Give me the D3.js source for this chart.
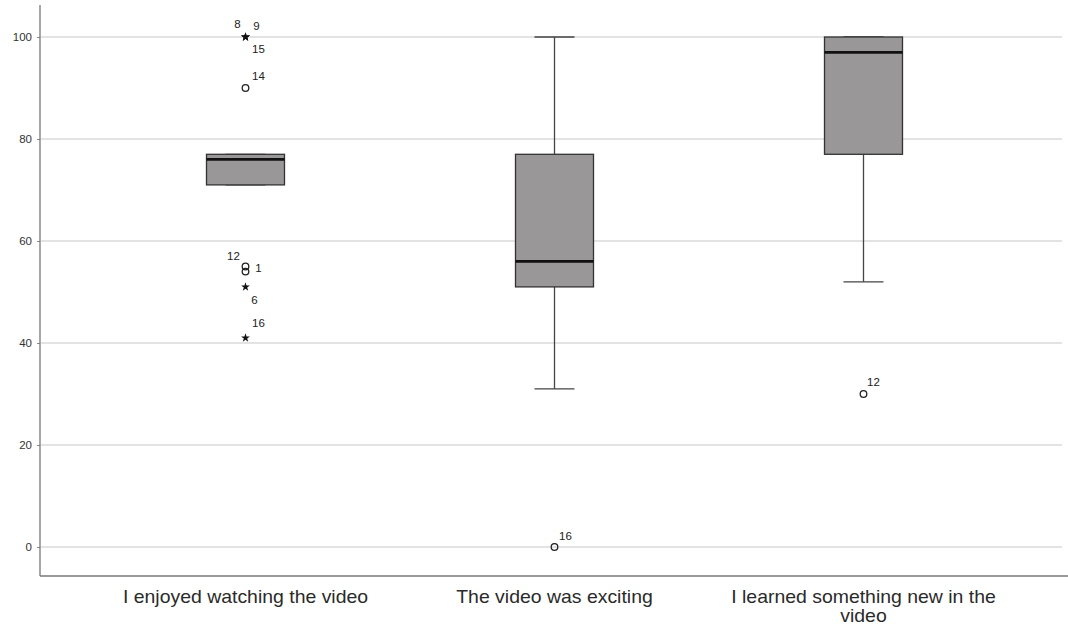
<!DOCTYPE html>
<html lang="en">
<head>
<script type="text/javascript" src="https://d3js.org/d3.v7.min.js"></script>
<style>
    body { margin: 0; background: #fff; }
    svg { display: block; font-family: "Liberation Sans", Arial, sans-serif; }
</style>
</head>
<body>
<div id="container"></div>
<script>
    // categories and box statistics
    const categories = ["I enjoyed watching the video", "The video was exciting", "I learned something new in the video"];
    const whiskerLow = [71, 31, 52],
        q1 = [71, 51, 77],
        median = [76, 56, 97],
        q3 = [77, 77, 100],
        whiskerHigh = [77, 100, 100];

    // outliers: group index, value, case number, extreme (star) or not (circle)
    const outGroup = [0, 0, 0, 0, 0, 0, 0, 0, 1, 2],
        outValue = [100, 100, 100, 90, 55, 54, 51, 41, 0, 30],
        outCase = ["8", "9", "15", "14", "12", "1", "6", "16", "16", "12"],
        outExtreme = [true, true, true, false, false, false, true, true, false, false];

    const yTicks = [0, 20, 40, 60, 80, 100];

    // label offsets (dx, dy) relative to the marker
    const labelOffset = [[-8, -13], [11, -11], [13, 12], [13, -12], [-12, -11], [13, -4], [9, 13], [13, -15], [11, -11], [10, -12]];

    var width = 1068,
        height = 627;

    var svg = d3.select("#container")
        .append("svg")
        .attr("width", width)
        .attr("height", height);

    var y = d3.scaleLinear()
        .domain([0, 100])
        .range([547, 37]);

    var x = d3.scaleBand()
        .domain(d3.range(categories.length))
        .range([91, 1018]);

    var boxW = 78, capW = 40;

    // gridlines
    svg.append("g")
        .selectAll("line")
        .data(yTicks)
        .enter()
        .append("line")
        .attr("x1", 41).attr("x2", 1062)
        .attr("y1", d => y(d)).attr("y2", d => y(d))
        .attr("stroke", "#c8c8c8")
        .attr("stroke-width", 1.2);

    // y axis
    var yAxis = svg.append("g")
        .attr("transform", "translate(40,0)")
        .call(d3.axisLeft(y).tickValues(yTicks).tickSize(3).tickPadding(5));
    yAxis.select(".domain").remove();
    yAxis.selectAll("line").attr("stroke", "#888");
    yAxis.selectAll("text").attr("font-size", 11.5).attr("fill", "#333")
        .attr("font-family", "Liberation Sans, Arial, sans-serif");

    // axis lines
    svg.append("line").attr("x1", 40).attr("x2", 40).attr("y1", 5).attr("y2", 576)
        .attr("stroke", "#777").attr("stroke-width", 1.3);
    svg.append("line").attr("x1", 40).attr("x2", 1068).attr("y1", 576).attr("y2", 576)
        .attr("stroke", "#777").attr("stroke-width", 1.3);

    // boxes
    var groups = svg.selectAll(".box")
        .data(categories.map((c, i) => i))
        .enter()
        .append("g")
        .attr("class", "box")
        .attr("transform", i => "translate(" + (x(i) + x.bandwidth() / 2) + ",0)");

    // whiskers
    groups.append("line")
        .attr("x1", 0).attr("x2", 0)
        .attr("y1", i => y(q3[i])).attr("y2", i => y(whiskerHigh[i]))
        .attr("stroke", "#444").attr("stroke-width", 1.3);
    groups.append("line")
        .attr("x1", 0).attr("x2", 0)
        .attr("y1", i => y(q1[i])).attr("y2", i => y(whiskerLow[i]))
        .attr("stroke", "#444").attr("stroke-width", 1.3);
    groups.append("line")
        .attr("x1", -capW / 2).attr("x2", capW / 2)
        .attr("y1", i => y(whiskerHigh[i])).attr("y2", i => y(whiskerHigh[i]))
        .attr("stroke", "#444").attr("stroke-width", 1.3);
    groups.append("line")
        .attr("x1", -capW / 2).attr("x2", capW / 2)
        .attr("y1", i => y(whiskerLow[i])).attr("y2", i => y(whiskerLow[i]))
        .attr("stroke", "#444").attr("stroke-width", 1.3);

    groups.append("rect")
        .attr("x", -boxW / 2)
        .attr("width", boxW)
        .attr("y", i => y(q3[i]))
        .attr("height", i => y(q1[i]) - y(q3[i]))
        .attr("fill", "#9a9798")
        .attr("stroke", "#333")
        .attr("stroke-width", 1.3);

    groups.append("line")
        .attr("x1", -boxW / 2).attr("x2", boxW / 2)
        .attr("y1", i => y(median[i])).attr("y2", i => y(median[i]))
        .attr("stroke", "#111").attr("stroke-width", 2.8);

    // outliers
    var cx = i => x(outGroup[i]) + x.bandwidth() / 2;
    var star = d3.symbol().type(d3.symbolStar).size(24);
    var idx = d3.range(outValue.length);

    svg.append("g").selectAll("circle")
        .data(idx.filter(i => !outExtreme[i]))
        .enter()
        .append("circle")
        .attr("cx", cx)
        .attr("cy", i => y(outValue[i]))
        .attr("r", 3.3)
        .attr("fill", "none")
        .attr("stroke", "#222")
        .attr("stroke-width", 1.3);

    svg.append("g").selectAll("path")
        .data(idx.filter(i => outExtreme[i]))
        .enter()
        .append("path")
        .attr("d", star)
        .attr("transform", i => "translate(" + cx(i) + "," + y(outValue[i]) + ")")
        .attr("fill", "#111");

    svg.append("g").selectAll("text")
        .data(idx)
        .enter()
        .append("text")
        .attr("x", i => cx(i) + labelOffset[i][0])
        .attr("y", i => y(outValue[i]) + labelOffset[i][1])
        .attr("dy", "0.35em")
        .attr("text-anchor", "middle")
        .attr("font-size", 11.5)
        .attr("fill", "#222")
        .text(i => outCase[i]);

    // category labels (wrapped as in the original)
    var catLabels = [["I enjoyed watching the video"], ["The video was exciting"], ["I learned something new in the", "video"]];
    svg.append("g").selectAll("text")
        .data(idx.slice(0, categories.length))
        .enter()
        .append("text")
        .attr("transform", i => "translate(" + (x(i) + x.bandwidth() / 2) + ",603) scale(1.08,1)")
        .attr("text-anchor", "middle")
        .attr("font-size", 18)
        .attr("fill", "#2a2a2a")
        .each(function(i) {
            var t = d3.select(this);
            catLabels[i].forEach((line, k) => {
                t.append("tspan")
                    .attr("x", 0)
                    .attr("dy", k === 0 ? 0 : 19)
                    .text(line);
            });
        });
</script>
</body>
</html>
